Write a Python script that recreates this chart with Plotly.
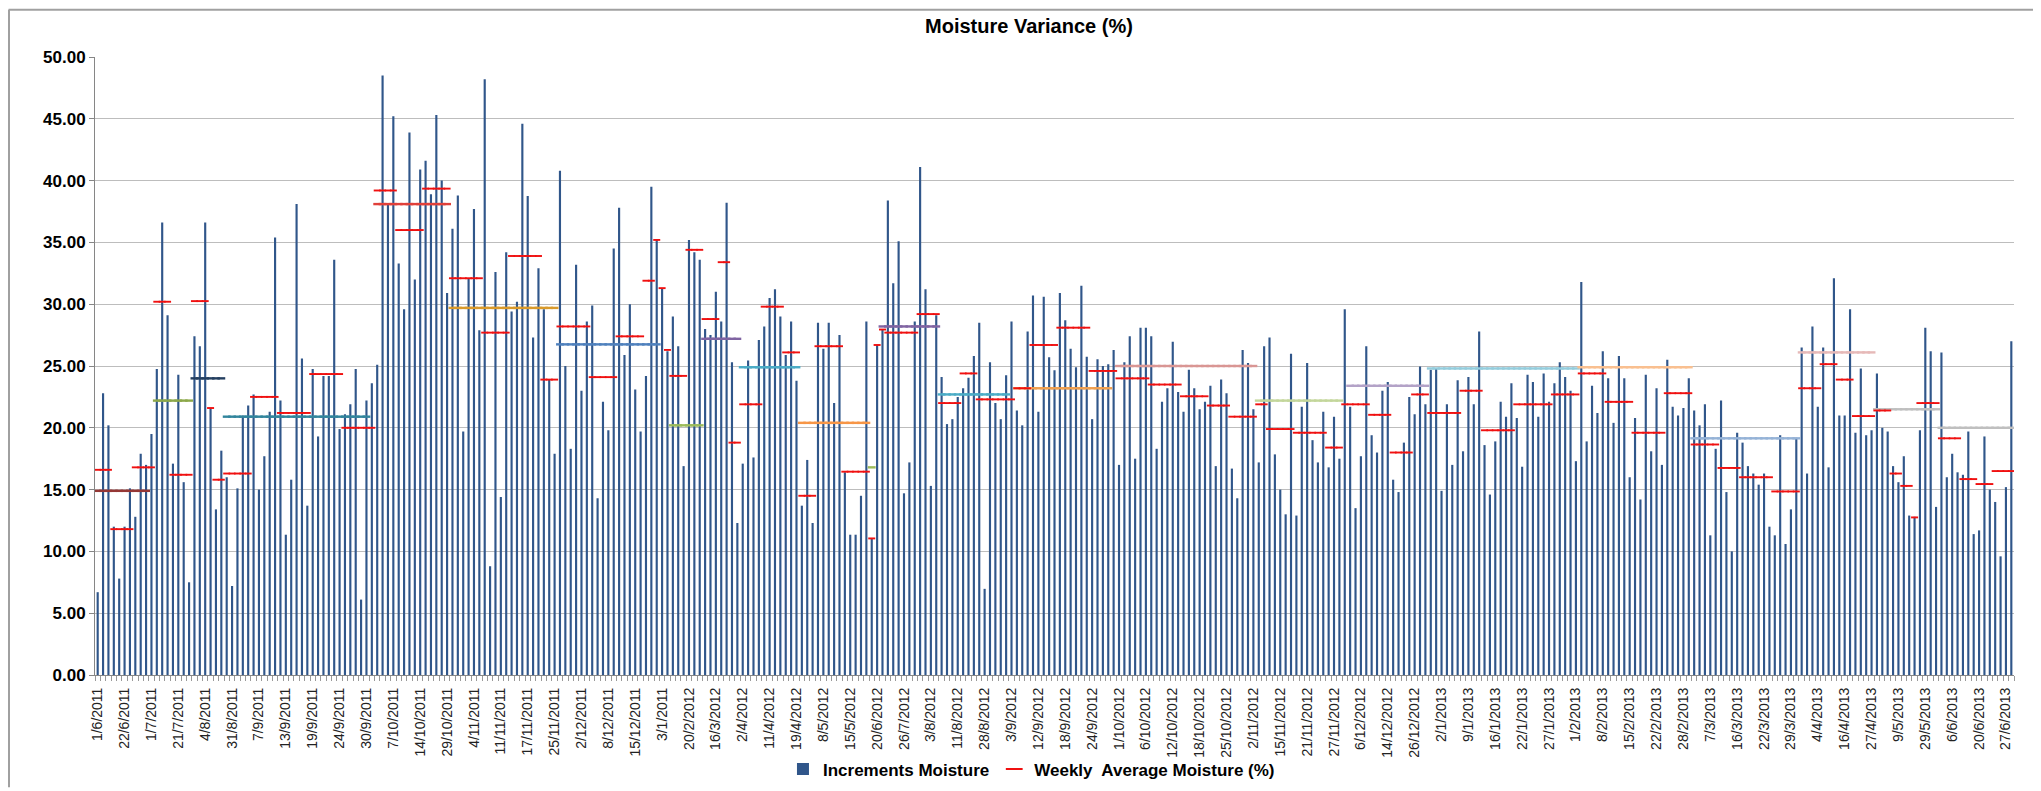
import plotly.graph_objects as go

# ---------------- data ----------------
tick_labels = ["1/6/2011","22/6/2011","1/7/2011","21/7/2011","4/8/2011","31/8/2011","7/9/2011","13/9/2011",
               "19/9/2011","24/9/2011","30/9/2011","7/10/2011","14/10/2011","29/10/2011","4/11/2011","11/11/2011",
               "17/11/2011","25/11/2011","2/12/2011","8/12/2011","15/12/2011","3/1/2011","20/2/2012","16/3/2012",
               "2/4/2012","11/4/2012","19/4/2012","8/5/2012","15/5/2012","20/6/2012","26/7/2012","3/8/2012",
               "11/8/2012","28/8/2012","3/9/2012","12/9/2012","18/9/2012","24/9/2012","1/10/2012","6/10/2012",
               "12/10/2012","18/10/2012","25/10/2012","2/11/2012","15/11/2012","21/11/2012","27/11/2012","6/12/2012",
               "14/12/2012","26/12/2012","2/1/2013","9/1/2013","16/1/2013","22/1/2013","27/1/2013","1/2/2013",
               "8/2/2013","15/2/2013","22/2/2013","28/2/2013","7/3/2013","16/3/2013","22/3/2013","29/3/2013",
               "4/4/2013","16/4/2013","27/4/2013","9/5/2013","29/5/2013","6/6/2013","20/6/2013","27/6/2013"]
label_step = 5

increments = [
    6.7, 22.8, 20.2, 12.0, 7.8, 12.0, 15.1, 12.8, 17.9, 17.0,
    19.5, 24.75, 36.6, 29.1, 17.1, 24.3, 15.6, 7.5, 27.4, 26.6,
    36.6, 21.6, 13.4, 18.15, 16.0, 7.2, 15.1, 21.0, 21.8, 22.7,
    15.0, 17.7, 21.3, 35.4, 22.2, 11.35, 15.8, 38.1, 25.6, 13.7,
    24.75, 19.3, 24.2, 24.2, 33.6, 19.9, 21.1, 21.9, 24.75, 6.1,
    22.2, 23.6, 25.1, 48.5, 38.1, 45.2, 33.3, 29.6, 43.9, 32.0,
    40.9, 41.6, 38.9, 45.3, 40.0, 30.9, 36.1, 38.8, 19.7, 32.1,
    37.7, 27.9, 48.2, 8.8, 32.6, 14.4, 34.2, 29.4, 30.2, 44.6,
    38.75, 27.3, 32.9, 29.6, 23.9, 17.9, 40.8, 25.0, 18.3, 33.2,
    23.0, 28.6, 29.9, 14.3, 22.1, 19.8, 34.5, 37.8, 25.9, 30.0,
    23.1, 19.7, 24.2, 39.5, 35.2, 31.3, 26.2, 29.0, 26.6, 16.9,
    35.2, 34.2, 33.6, 28.0, 27.5, 31.0, 28.6, 38.2, 25.3, 12.3,
    17.1, 25.45, 17.6, 27.1, 28.2, 30.5, 31.2, 29.0, 25.9, 28.6,
    23.8, 13.7, 17.4, 12.3, 28.5, 26.4, 28.5, 22.0, 27.5, 16.4,
    11.35, 11.35, 14.5, 28.6, 11.05, 26.7, 27.95, 38.4, 31.7, 35.1,
    14.7, 17.2, 28.6, 41.1, 31.2, 15.3, 29.1, 24.1, 20.3, 20.7,
    22.5, 23.2, 24.05, 25.8, 28.5, 6.97, 25.3, 22.0, 20.7, 24.25,
    28.6, 21.4, 20.2, 27.8, 30.7, 21.3, 30.6, 25.7, 24.65, 30.9,
    28.7, 26.4, 24.9, 31.5, 25.75, 20.7, 25.55, 25.0, 25.15, 26.3,
    17.0, 25.3, 27.4, 17.5, 28.1, 28.1, 27.4, 18.3, 22.1, 23.2,
    26.96, 22.9, 21.3, 24.7, 23.2, 21.5, 22.1, 23.4, 16.9, 23.9,
    22.8, 16.7, 14.3, 26.3, 25.25, 21.5, 17.2, 26.6, 27.3, 17.85,
    15.0, 13.0, 26.0, 12.9, 21.7, 25.25, 19.0, 17.2, 21.3, 16.8,
    20.9, 17.5, 29.6, 21.7, 13.5, 17.7, 26.6, 19.4, 18.0, 23.0,
    23.7, 15.8, 14.8, 18.8, 22.5, 21.1, 24.95, 21.9, 24.7, 24.75,
    14.9, 21.9, 17.0, 23.85, 18.1, 24.1, 21.9, 27.8, 18.6, 14.6,
    18.9, 22.1, 20.9, 23.6, 20.8, 16.85, 24.3, 23.7, 20.9, 24.4,
    22.1, 23.6, 25.3, 24.1, 23.0, 17.3, 31.8, 18.9, 23.4, 21.2,
    26.2, 24.0, 20.4, 25.8, 24.0, 16.0, 20.8, 14.2, 24.3, 18.1,
    23.2, 17.0, 25.5, 21.7, 21.0, 21.6, 24.0, 21.4, 20.2, 21.9,
    11.3, 18.3, 22.2, 14.8, 10.0, 19.6, 18.8, 16.9, 16.3, 15.4,
    16.3, 12.0, 11.3, 19.4, 10.6, 13.4, 19.2, 26.5, 16.3, 28.2,
    21.7, 26.5, 16.8, 32.1, 21.0, 21.0, 29.6, 19.6, 24.8, 19.4,
    19.8, 24.4, 20.0, 19.7, 16.9, 15.6, 17.7, 12.9, 12.8, 19.8,
    28.1, 26.2, 13.6, 26.1, 16.0, 17.9, 16.4, 16.2, 19.7, 11.4,
    11.7, 19.3, 15.0, 14.0, 9.6, 15.2, 27.0,
]

# weekly averages: number of readings in each week and the week's average
week_len = [3, 4, 4, 3, 4, 3, 1, 2, 5, 5, 6, 6, 6, 4, 5, 5, 6, 5, 6, 3,
            6, 5, 5, 2, 1, 1, 1, 3, 3, 3, 2, 2, 4, 4, 3, 3, 5, 5, 1, 1,
            1, 6, 4, 4, 3, 7, 3, 5, 6, 5, 6, 6, 5, 4, 5, 2, 5, 6, 3, 5,
            4, 4, 3, 6, 4, 6, 7, 5, 5, 5, 6, 5, 5, 4, 6, 5, 4, 3, 3, 4,
            3, 2, 2, 1, 4, 4, 3, 3, 4]
week_avg = [16.6, 11.8, 16.8, 30.2, 16.2, 30.25, 21.6, 15.8, 16.3, 22.5, 21.2, 24.35, 20.0, 39.2, 36.0, 39.35,
            32.1, 27.7, 33.9, 23.9, 28.2, 24.1, 27.4, 31.9, 35.2, 31.3, 26.3, 24.2, 34.4, 28.8, 33.4, 18.8,
            21.9, 29.8, 26.1, 14.5, 26.6, 16.45, 11.05, 26.7, 27.95, 27.7, 29.2, 22.0, 24.4, 22.3, 23.2, 26.7,
            28.1, 24.6, 24.0, 23.5, 22.55, 21.8, 20.9, 21.9, 19.9, 19.6, 18.4, 21.9, 21.05, 18.0, 22.7, 21.2,
            23.0, 19.8, 21.9, 22.7, 24.4, 22.1, 19.6, 22.8, 18.65, 16.75, 16.0, 14.85, 23.2, 25.15, 23.9, 20.95,
            21.4, 16.3, 15.3, 12.75, 22.0, 19.15, 15.85, 15.45, 16.5]

# monthly averages: first / last reading index of each month and its average
month_first = [0, 11, 18, 24, 52, 66, 86, 107, 113, 120, 131, 144, 146, 157, 171, 190, 216, 233, 248, 276, 297, 317, 331, 343]
month_last = [9, 17, 23, 50, 65, 85, 104, 112, 119, 130, 143, 144, 156, 169, 188, 215, 231, 247, 275, 296, 316, 330, 342, 356]
month_avg = [14.9, 22.2, 24.0, 20.9, 38.1, 29.7, 26.75, 20.2, 27.2, 24.9, 20.4, 16.8, 28.2, 22.7, 23.2, 25.0, 22.2, 23.4,
             24.8, 24.9, 19.15, 26.1, 21.5, 20.0]
month_colors = ["#953735", "#8CA84A", "#243F60", "#31859C", "#E0403A", "#D99A2B", "#4F81BD", "#9BBB59", "#8064A2",
                "#4BACC6", "#F79646", "#9BBB59", "#8064A2", "#4BACC6", "#F0A050", "#D99694", "#C3D69B", "#B3A2C7",
                "#93CDDD", "#FAC090", "#95B3D7", "#E6B9B8", "#BFBFBF", "#BFBFBF"]

# ---------------- build the figure ----------------
n = len(increments)
xs = list(range(n))

wx, wy = [], []
pos = 0
for L, v in zip(week_len, week_avg):
    for k in range(pos, min(pos + L, n)):
        wx.append(k)
        wy.append(v)
    pos += L

mx, my, mc = [], [], []
for a, b, v, c in zip(month_first, month_last, month_avg, month_colors):
    for k in range(a, b + 1):
        mx.append(k)
        my.append(v)
        mc.append(c)

FONT = "Liberation Sans, Arial, sans-serif"

fig = go.Figure()
fig.add_trace(go.Bar(x=xs, y=increments, width=0.4, name="Increments Moisture",
                     marker=dict(color="#30568A", line=dict(width=0))))
fig.add_trace(go.Scatter(x=mx, y=my, mode="markers", showlegend=False, hoverinfo="skip",
                         marker=dict(symbol="line-ew", size=5.6, line=dict(color=mc, width=2.4))))
fig.add_trace(go.Scatter(x=wx, y=wy, mode="markers", name="Weekly  Average Moisture (%)",
                         marker=dict(symbol="line-ew", size=5.0, color="#FF0000",
                                     line=dict(color="#F01010", width=1.9))))

L_M, R_M, T_M, B_M = 87, 35, 49, 114
W, H = 2041, 791
pw, ph = W - L_M - R_M, H - T_M - B_M

fig.update_layout(
    width=W, height=H, autosize=False,
    margin=dict(l=L_M, r=R_M, t=T_M, b=B_M),
    paper_bgcolor="white", plot_bgcolor="white",
    font=dict(family=FONT, color="black"),
    showlegend=True,
    legend=dict(orientation="h", x=0.488, xanchor="center", y=-(773 - (T_M + ph)) / ph, yanchor="middle",
                font=dict(size=17, family=FONT, color="black", weight="bold"),
                itemsizing="constant", bgcolor="rgba(0,0,0,0)"),
)

fig.update_xaxes(range=[-0.5, n - 0.5], tickmode="array",
                 tickvals=[i * label_step for i in range(len(tick_labels))], ticktext=tick_labels,
                 tickangle=-90, tickfont=dict(size=14, family=FONT, color="#222222"),
                 showgrid=False, zeroline=False, showline=True, linecolor="#868686", linewidth=1,
                 ticks="", ticklabelstandoff=6,
                 minor=dict(tickmode="linear", tick0=-0.5, dtick=1, ticks="outside", ticklen=5,
                            tickcolor="#9A9A9A", tickwidth=1, showgrid=False))
fig.update_yaxes(range=[0, 50], dtick=5, tickformat=".2f",
                 tickfont=dict(size=17, family=FONT, color="black", weight="bold"),
                 showgrid=True, gridcolor="#BDBDBD", gridwidth=1, zeroline=False,
                 showline=True, linecolor="#868686", linewidth=1,
                 ticks="outside", ticklen=5, tickcolor="#868686")

fig.add_annotation(text="<b>Moisture Variance (%)</b>", xref="paper", yref="paper",
                   x=(1021 - L_M) / pw, y=1 + (T_M - 18) / ph, xanchor="center", yanchor="middle",
                   showarrow=False, font=dict(size=20, family=FONT, color="black"))

# thin chart border (top and left edges)
fig.add_shape(type="line", xref="paper", yref="paper", x0=-L_M / pw + 0.0003, x1=(W - L_M) / pw,
              y0=1 + (T_M - 1) / ph, y1=1 + (T_M - 1) / ph, line=dict(color="#A0A0A0", width=2))
fig.add_shape(type="line", xref="paper", yref="paper", x0=-(L_M - 1) / pw, x1=-(L_M - 1) / pw,
              y0=1 + (T_M - 1) / ph, y1=-(B_M) / ph, line=dict(color="#A0A0A0", width=2))

fig.write_html("out.html")
